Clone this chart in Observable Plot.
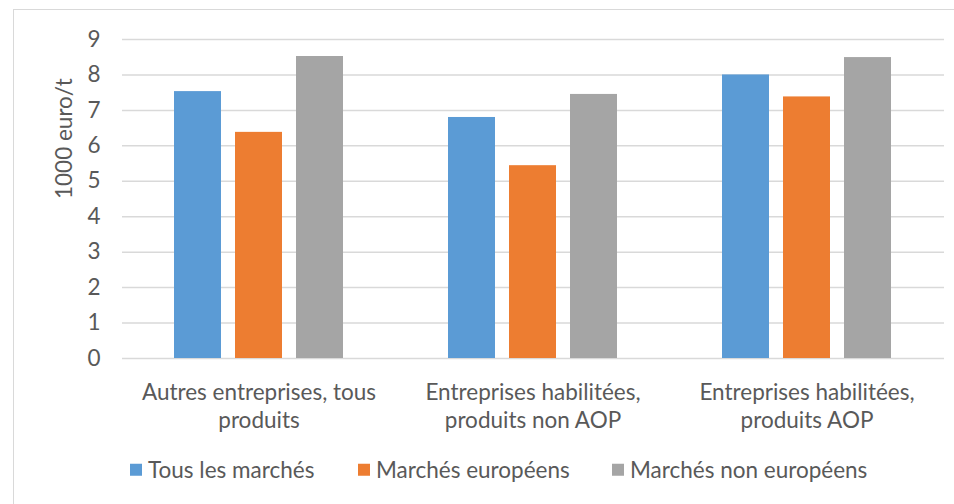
<!DOCTYPE html>
<html>
<head>
<meta charset="utf-8">
<script src="https://cdn.jsdelivr.net/npm/d3@7"></script>
<script src="https://cdn.jsdelivr.net/npm/@observablehq/plot@0.6"></script>
<style>
  html, body { margin: 0; padding: 0; background: #fff; }
  body { width: 954px; height: 504px; position: relative; overflow: hidden; font-family: Lato, "Open Sans", sans-serif; }
  #frame { position: absolute; left: 13px; top: 9px; width: 945px; height: 500px; border-left: 1.5px solid #d9d9d9; border-top: 1.5px solid #d9d9d9; pointer-events: none; }
  #chart { position: absolute; left: 0; top: 0; }
  #legend { position: absolute; left: 0; top: 0; width: 954px; height: 504px; font-size: 22.5px; color: #595959; font-family: Lato, sans-serif; pointer-events: none; }
  #legend .item { position: absolute; top: 470px; transform: translateY(-50%); display: flex; align-items: center; white-space: nowrap; line-height: 1; }
  #legend .sw { width: 12px; height: 12px; margin-right: 6px; display: inline-block; }
</style>
</head>
<body>
<div id="frame"></div>
<div id="chart"></div>
<div id="legend"></div>
<script>
const categories = ["Autres entreprises, tous\nproduits", "Entreprises habilitées,\nproduits non AOP", "Entreprises habilitées,\nproduits AOP"];
const seriesNames = ["Tous les marchés", "Marchés européens", "Marchés non européens"];
const tousLesMarches = [7.53, 6.80, 8.00];
const marchesEuropeens = [6.38, 5.44, 7.38];
const marchesNonEuropeens = [8.52, 7.45, 8.49];
const yTicks = [0, 1, 2, 3, 4, 5, 6, 7, 8, 9];
const colors = ["#5B9BD5", "#ED7D31", "#A5A5A5"];
const yLabel = "1000 euro/t";
const legendLefts = [130, 358, 612];

const seriesValues = [tousLesMarches, marchesEuropeens, marchesNonEuropeens];
const data = [];
seriesNames.forEach((s, si) => categories.forEach((c, ci) => data.push({category: c, series: s, value: seriesValues[si][ci]})));

const offsets = [-61, 0, 61];
const barMarks = seriesNames.map((s, si) => Plot.barY(data.filter(d => d.series === s), {
  x: "category", y: "value", fill: "series", dx: offsets[si]
}));

const FS = 22.5;
const chart = Plot.plot({
  width: 954,
  height: 445,
  marginTop: 39,
  marginBottom: 87,
  marginLeft: 122,
  marginRight: 10,
  style: {fontFamily: "Lato, sans-serif", fontSize: FS + "px", color: "#595959", background: "transparent"},
  x: {domain: categories, paddingInner: 0.828, paddingOuter: 0.414, axis: null},
  y: {domain: [0, 9], axis: null},
  color: {domain: seriesNames, range: colors},
  marks: [
    Plot.ruleY(yTicks, {stroke: "#d9d9d9", strokeWidth: 1.5}),
    ...barMarks,
    Plot.axisY(yTicks, {tickSize: 0, tickPadding: 22, label: null, fill: "#595959", fontSize: FS}),
    Plot.text([yLabel], {frameAnchor: "left", dx: -58, rotate: -90, fill: "#595959", fontSize: FS}),
    Plot.text(categories, {x: d => d, y: 0, text: d => d, lineAnchor: "top", dy: 22, lineHeight: 1.244, fill: "#595959", fontSize: FS})
  ]
});
document.getElementById("chart").appendChild(chart);

const legend = document.getElementById("legend");
seriesNames.forEach((s, i) => {
  const item = document.createElement("div");
  item.className = "item";
  item.style.left = legendLefts[i] + "px";
  const sw = document.createElement("span");
  sw.className = "sw";
  sw.style.background = colors[i];
  item.appendChild(sw);
  item.appendChild(document.createTextNode(s));
  legend.appendChild(item);
});
</script>
</body>
</html>
